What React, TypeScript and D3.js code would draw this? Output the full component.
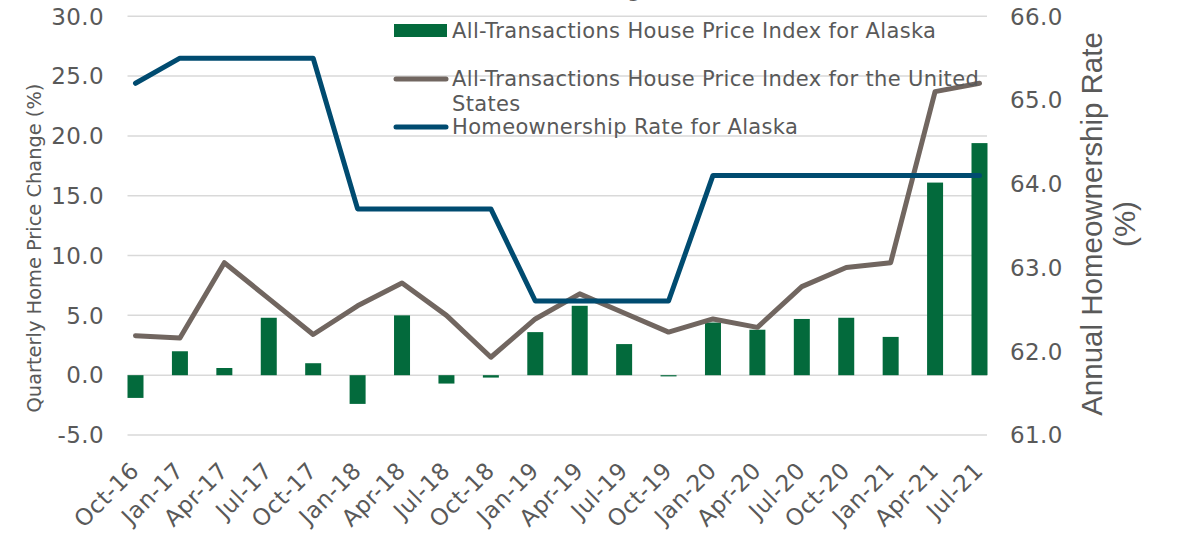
import * as d3 from 'd3';

const W = 1178;
const H = 541;
const TEXT = '#595959';
const GRID = '#d9d9d9';
const BAR_COLOR = '#036a3c';
const US_COLOR = '#716660';
const HOME_COLOR = '#004b70';
const FONT = '"DejaVu Sans", Verdana, sans-serif';

const categories = [
  'Oct-16', 'Jan-17', 'Apr-17', 'Jul-17', 'Oct-17', 'Jan-18', 'Apr-18', 'Jul-18',
  'Oct-18', 'Jan-19', 'Apr-19', 'Jul-19', 'Oct-19', 'Jan-20', 'Apr-20', 'Jul-20',
  'Oct-20', 'Jan-21', 'Apr-21', 'Jul-21',
];

// quarterly change, AK house price index (left axis)
const alaskaHpi = [
  -1.9, 2.0, 0.6, 4.8, 1.0, -2.4, 5.0, -0.7, -0.2, 3.6,
  5.8, 2.6, -0.1, 4.4, 3.8, 4.7, 4.8, 3.2, 16.1, 19.4,
];

// US house price index (left axis)
const usHpi = [
  3.3, 3.1, 9.4, 6.4, 3.4, 5.8, 7.7, 5.0, 1.5, 4.7,
  6.8, 5.2, 3.6, 4.7, 4.0, 7.4, 9.0, 9.4, 23.7, 24.4,
];

// homeownership rate (right axis)
const homeRate = [
  65.2, 65.5, 65.5, 65.5, 65.5, 63.7, 63.7, 63.7, 63.7, 62.6,
  62.6, 62.6, 62.6, 64.1, 64.1, 64.1, 64.1, 64.1, 64.1, 64.1,
];

const leftTicks = [-5, 0, 5, 10, 15, 20, 25, 30];
const rightTicks = [61, 62, 63, 64, 65, 66];

const legendItems = [
  { type: 'bar', color: BAR_COLOR, lines: ['All-Transactions House Price Index for Alaska'] },
  { type: 'line', color: US_COLOR, lines: ['All-Transactions House Price Index for the United', 'States'] },
  { type: 'line', color: HOME_COLOR, lines: ['Homeownership Rate for Alaska'] },
];

const PLOT = { left: 127.5, right: 987, top: 16.3, bottom: 435 };

export default function App() {
  const x = d3.scalePoint<string>().domain(categories).range([135.5, 979.5]);
  const yL = d3.scaleLinear().domain([-5, 30]).range([PLOT.bottom, PLOT.top]);
  const yR = d3.scaleLinear().domain([61, 66]).range([PLOT.bottom, PLOT.top]);
  const barW = x.step() * 0.36;

  const usLine = d3.line<number>()
    .x((_, i) => x(categories[i])!)
    .y(d => yL(d));
  const homeLine = d3.line<number>()
    .x((_, i) => x(categories[i])!)
    .y(d => yR(d));

  const legendY = [30.5, 79, 127];

  return (
    <svg width={W} height={H} style={{ position: 'absolute', left: 0, top: 0 }} fontFamily={FONT}>
      <rect width={W} height={H} fill="#fff" />

      {/* clipped chart title, only its descender shows */}
      <text x={641} y={-3} textAnchor="end" fontSize={22} fill={TEXT}>Alaska Housing</text>

      {/* grid */}
      {leftTicks.map(t => (
        <line key={t} x1={PLOT.left} x2={PLOT.right} y1={yL(t)} y2={yL(t)} stroke={GRID} strokeWidth={1.5} />
      ))}

      {/* left ticks */}
      {leftTicks.map(t => (
        <text key={t} x={104} y={yL(t)} dy="0.36em" textAnchor="end" fontSize={23} letterSpacing={0.4} fill={TEXT}>
          {t.toFixed(1)}
        </text>
      ))}

      {/* right ticks */}
      {rightTicks.map(t => (
        <text key={t} x={1010} y={yR(t)} dy="0.36em" textAnchor="start" fontSize={23} letterSpacing={0.4} fill={TEXT}>
          {t.toFixed(1)}
        </text>
      ))}

      {/* bars */}
      {alaskaHpi.map((v, i) => (
        <rect
          key={categories[i]}
          x={x(categories[i])! - barW / 2}
          y={Math.min(yL(v), yL(0))}
          width={barW}
          height={Math.abs(yL(v) - yL(0))}
          fill={BAR_COLOR}
        />
      ))}

      <path d={usLine(usHpi)!} fill="none" stroke={US_COLOR} strokeWidth={5} strokeLinejoin="round" strokeLinecap="round" />
      <path d={homeLine(homeRate)!} fill="none" stroke={HOME_COLOR} strokeWidth={5} strokeLinejoin="round" strokeLinecap="round" />

      {/* x labels */}
      {categories.map(c => (
        <text key={c} transform={`translate(${x(c)! + 5},${472}) rotate(-45)`} textAnchor="end" fontSize={23} letterSpacing={0.5} fill={TEXT}>
          {c}
        </text>
      ))}

      {/* axis titles */}
      <text transform={`translate(41,248) rotate(-90)`} textAnchor="middle" fontSize={19.4} fill={TEXT}>
        Quarterly Home Price Change (%)
      </text>
      <g transform="translate(1102,224) rotate(-90)" fontFamily='"Liberation Sans", Arial, sans-serif' fontSize={29.5} fill={TEXT} textAnchor="middle">
        <text x={0} y={0}>Annual Homeownership Rate</text>
        <text x={0} y={33}>(%)</text>
      </g>

      {/* legend */}
      {legendItems.map((item, i) => (
        <g key={i}>
          {item.type === 'bar'
            ? <rect x={394} y={legendY[i] - 6.5} width={53} height={13} fill={item.color} />
            : <line x1={396} x2={446} y1={legendY[i]} y2={legendY[i]} stroke={item.color} strokeWidth={5} strokeLinecap="round" />}
          {item.lines.map((ln, j) => (
            <text key={j} x={452} y={legendY[i] + 7 + j * 25} fontSize={21} letterSpacing={0.35} fill={TEXT}>{ln}</text>
          ))}
        </g>
      ))}
    </svg>
  );
}
